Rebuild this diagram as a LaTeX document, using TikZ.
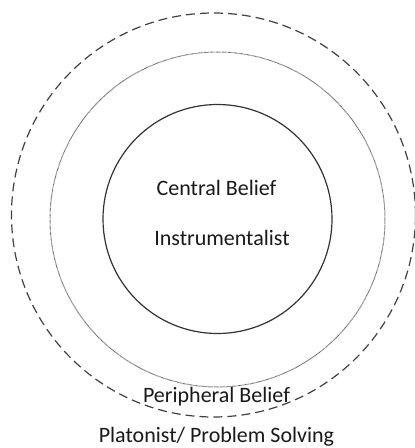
\documentclass[tikz,border=0pt]{standalone}
\usepackage{fontspec}
\setmainfont{Carlito}
\begin{document}
\begin{tikzpicture}[x=1pt,y=-1pt,
  lbl/.style={font=\fontsize{22}{24}\selectfont, text=black!90, inner sep=0pt, anchor=base},
  ring/.style={circle, inner sep=0pt, minimum size=#1}]
\useasboundingbox (0,0) rectangle (415,448);
\node[ring=404pt, draw=black!75, line width=1.2pt, dash pattern=on 9pt off 5pt] (outer) at (213.5,215) {};
\node[ring=335pt, draw=black!65, line width=1pt, dash pattern=on 0.6pt off 0.6pt] (middle) at (217.5,219.5) {};
\node[ring=229pt, draw=black!80, line width=1.2pt] (inner) at (217.5,219) {};
\node[lbl] (central) at (216.5,195) {Central Belief};
\node[lbl] (instr) at (222,245) {Instrumentalist};
\node[lbl] (periph) at (216.5,402) {Peripheral Belief};
\node[lbl] (plat) at (216.5,442) {Platonist/ Problem Solving};
\end{tikzpicture}
\end{document}
